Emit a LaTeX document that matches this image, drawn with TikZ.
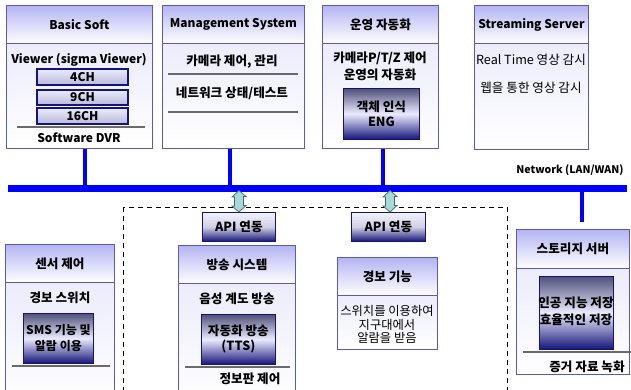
\documentclass[tikz,border=0pt]{standalone}
\usepackage{fontspec}
\setmainfont{Noto Sans CJK KR}
\definecolor{boxblue}{HTML}{5A5AB4}
\definecolor{hdrtop}{HTML}{B4B4F2}
\definecolor{bodytop}{HTML}{ECECFC}
\definecolor{navyd}{HTML}{141478}
\definecolor{darktop}{HTML}{50507A}
\definecolor{busblue}{HTML}{0000FF}
\definecolor{arrfill}{HTML}{A8D8D8}
\definecolor{arrline}{HTML}{406868}
\definecolor{sepgray}{HTML}{6A6A6A}
\tikzset{
  kr/.style={font=\fontsize{12.6}{13.5}\selectfont},
  krb/.style={font=\bfseries\fontsize{12.6}{15}\selectfont},
  krbw/.style={font=\bfseries\fontsize{12.6}{17}\selectfont},
  lab/.style={font=\bfseries\fontsize{12}{14}\selectfont},
  box/.style={draw=boxblue, line width=0.9pt, inner sep=0pt, anchor=north west, align=center},
  hdr/.style={box, top color=hdrtop, bottom color=white},
  bdy/.style={box, top color=bodytop, bottom color=white},
  btn/.style={draw=navyd, line width=1.1pt, inner sep=0pt, anchor=center, top color=white!92!blue, bottom color=white!70!navyd, align=center},
  dark/.style={draw=navyd, line width=0.8pt, inner sep=0pt, anchor=north west, align=center, top color=darktop, bottom color=navyd, middle color=white!92!blue},
  api/.style={draw=navyd, line width=0.8pt, inner sep=0pt, anchor=north west, align=center, top color=white!95!blue, bottom color=navyd, middle color=white!80!navyd},
  txt/.style={inner sep=0pt, align=center},
  sep/.style={draw=sepgray, line width=1.2pt},
  busline/.style={draw=busblue, line width=6.7pt},
  stub/.style={draw=busblue, line width=3.2pt},
  dbl/.style={fill=arrfill, draw=arrline, line width=0.7pt, line join=miter},
  dashbox/.style={draw=black, line width=1pt, dash pattern=on 5pt off 4pt}
}
\begin{document}
\begin{tikzpicture}[x=1pt,y=-1pt]
\useasboundingbox (0,0) rectangle (631,389);
\clip (0,0) rectangle (631,389);
\fill[white] (0,0) rectangle (631,389);

% ---------- Basic Soft ----------
\node[bdy, minimum width=146pt, minimum height=105pt] (bsB) at (6,43) {};
\node[hdr, lab, minimum width=146pt, minimum height=38pt] (bsH) at (6,5) {Basic Soft};
\node[txt, lab] (bsV) at (79,60) {Viewer (sigma Viewer)};
\node[btn, lab, minimum width=91pt, minimum height=16pt] (b4) at (82.5,77) {4CH};
\node[btn, lab, minimum width=91pt, minimum height=15pt] (b9) at (82.5,97.5) {9CH};
\node[btn, lab, minimum width=91pt, minimum height=16pt] (b16) at (82.5,116) {16CH};
\draw[sep] (17,127) -- (145,127);
\node[txt, lab] (bsD) at (79,138) {Software DVR};

% ---------- Management System ----------
\node[bdy, minimum width=142pt, minimum height=105pt] (msB) at (162,43) {};
\node[hdr, lab, minimum width=142pt, minimum height=38pt] (msH) at (162,5) {Management System};
\node[txt, krb] (ms1) at (232,62) {카메라 제어, 관리};
\draw[sep] (168,74) -- (298,74);
\node[txt, krb] (ms2) at (232,93) {네트워크 상태/테스트};
\draw[sep] (168,112) -- (298,112);

% ---------- 운영 자동화 ----------
\node[bdy, minimum width=116pt, minimum height=105pt] (opB) at (322,43) {};
\node[hdr, krb, minimum width=116pt, minimum height=38pt] (opH) at (322,5) {운영 자동화};
\node[txt, krbw] (op1) at (380,66.5) {카메라P/T/Z 제어\\운영의 자동화};
\node[dark, krb, minimum width=76pt, minimum height=51pt] (opE) at (343,88) {객체 인식\\ENG};

% ---------- Streaming Server ----------
\node[bdy, minimum width=114pt, minimum height=106pt] (ssB) at (474,43) {};
\node[hdr, lab, minimum width=114pt, minimum height=38pt] (ssH) at (474,5) {Streaming Server};
\node[txt, kr] (ss1) at (531,60) {Real Time 영상 감시};
\node[txt, kr] (ss2) at (531,88) {웹을 통한 영상 감시};

% ---------- Network bus ----------
\coordinate (busL) at (8,188.3);
\coordinate (busR) at (627,188.3);
\coordinate (s1) at (85,188);
\coordinate (s2) at (230,188);
\coordinate (s3) at (383,188);
\coordinate (s4) at (582,188);
\coordinate (s4e) at (582,222);
\draw[stub] (bsB.south -| s1) -- (s1);
\draw[stub] (msB.south -| s2) -- (s2);
\draw[stub] (opB.south -| s3) -- (s3);
\draw[stub] (s4) -- (s4e);
\draw[busline] (busL) -- (busR);
\node[txt, font=\bfseries\fontsize{10.5}{12}\selectfont] (net) at (570,170) {Network (LAN/WAN)};

% ---------- dashed group ----------
\draw[dashbox] (123,207) rectangle (507,400);

% ---------- API boxes ----------
\node[api, krb, minimum width=73pt, minimum height=29pt] (api1) at (202,212) {API 연동};
\node[api, krb, minimum width=74pt, minimum height=29pt] (api2) at (351,212) {API 연동};
\coordinate (a1t) at (239,190.5);
\coordinate (a2t) at (390,190.5);
\filldraw[dbl] (a1t) -- ++(7,6) -- ++(-2.5,0) -- ++(0,9) -- ++(2.5,0) -- (a1t |- api1.north) -- ++(-7,-6) -- ++(2.5,0) -- ++(0,-9) -- ++(-2.5,0) -- cycle;
\filldraw[dbl] (a2t) -- ++(7,6) -- ++(-2.5,0) -- ++(0,9) -- ++(2.5,0) -- (a2t |- api2.north) -- ++(-7,-6) -- ++(2.5,0) -- ++(0,-9) -- ++(-2.5,0) -- cycle;

% ---------- 센서 제어 ----------
\node[bdy, minimum width=109pt, minimum height=120pt] (scB) at (5,282) {};
\node[hdr, krb, minimum width=109pt, minimum height=38pt] (scH) at (5,244) {센서 제어};
\node[txt, krb] (sc1) at (60,298) {경보 스위치};
\node[dark, krb, minimum width=70pt, minimum height=50pt, font=\bfseries\fontsize{12}{16}\selectfont] (scS) at (23,313) {SMS 기능 및\\알람 이용};
\draw[sep] (12,366) -- (110,366);

% ---------- 방송 시스템 ----------
\node[bdy, minimum width=117pt, minimum height=120pt] (bcB) at (178,283) {};
\node[hdr, krb, minimum width=117pt, minimum height=38pt] (bcH) at (178,245) {방송 시스템};
\node[txt, krb] (bc1) at (237,299) {음성 계도 방송};
\node[dark, krb, minimum width=74pt, minimum height=50pt] (bcT) at (201,314) {자동화 방송\\(TTS)};
\draw[sep] (185,367) -- (290,367);
\node[txt, krb] (bc2) at (250,379) {정보판 제어};

% ---------- 경보 기능 ----------
\node[bdy, minimum width=100pt, minimum height=54pt] (alB) at (337,295) {};
\node[hdr, krb, minimum width=100pt, minimum height=38pt] (alH) at (337,257) {경보 기능};
\node[txt, kr, font=\fontsize{12.3}{13.5}\selectfont] (al1) at (387,324.5) {스위치를 이용하여\\지구대에서\\알람을 받음};

% ---------- 스토리지 서버 ----------
\node[bdy, minimum width=113pt, minimum height=106pt] (stB) at (516,268) {};
\node[hdr, krb, minimum width=113pt, minimum height=39pt] (stH) at (516,229) {스토리지 서버};
\node[dark, minimum width=74pt, minimum height=73pt] (stI) at (539,276) {};
\node[txt, krbw] (st1) at (576,311.5) {인공 지능 저장\\효율적인 저장};
\draw[sep] (523,352) -- (631,352);
\node[txt, krb] (st2) at (587,367) {증거 자료 녹화};
\end{tikzpicture}
\end{document}
